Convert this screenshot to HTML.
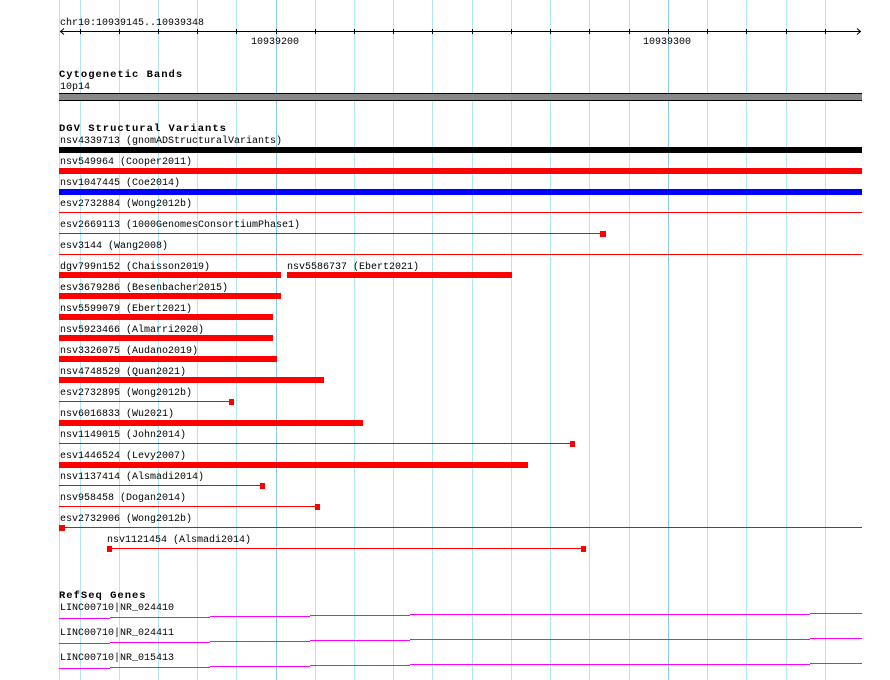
<!DOCTYPE html>
<html><head><meta charset="utf-8"><style>
html,body{margin:0;padding:0;background:#fff}
svg{display:block}
text{font-family:"Liberation Mono",monospace;font-size:10px;fill:#000}
.b{font-weight:bold;letter-spacing:1px;font-size:10.5px}
</style></head><body>
<svg width="890" height="680" viewBox="0 0 890 680" xmlns="http://www.w3.org/2000/svg" shape-rendering="crispEdges">
<rect width="890" height="680" fill="#fff"/>
<g stroke="#b0e8f0" stroke-width="1">
<line x1="59.5" y1="0" x2="59.5" y2="680"/>
<line x1="80.5" y1="0" x2="80.5" y2="680"/>
<line x1="119.5" y1="0" x2="119.5" y2="680"/>
<line x1="158.5" y1="0" x2="158.5" y2="680"/>
<line x1="197.5" y1="0" x2="197.5" y2="680"/>
<line x1="236.5" y1="0" x2="236.5" y2="680"/>
<line x1="315.5" y1="0" x2="315.5" y2="680"/>
<line x1="354.5" y1="0" x2="354.5" y2="680"/>
<line x1="393.5" y1="0" x2="393.5" y2="680"/>
<line x1="432.5" y1="0" x2="432.5" y2="680"/>
<line x1="472.5" y1="0" x2="472.5" y2="680"/>
<line x1="511.5" y1="0" x2="511.5" y2="680"/>
<line x1="550.5" y1="0" x2="550.5" y2="680"/>
<line x1="589.5" y1="0" x2="589.5" y2="680"/>
<line x1="629.5" y1="0" x2="629.5" y2="680"/>
<line x1="707.5" y1="0" x2="707.5" y2="680"/>
<line x1="746.5" y1="0" x2="746.5" y2="680"/>
<line x1="786.5" y1="0" x2="786.5" y2="680"/>
<line x1="825.5" y1="0" x2="825.5" y2="680"/>
</g>
<g stroke="#88cce8"><line x1="276.5" y1="0" x2="276.5" y2="680"/><line x1="668.5" y1="0" x2="668.5" y2="680"/></g>

<text x="60" y="25">chr10:10939145..10939348</text>
<g stroke="#000" fill="none">
<line x1="60" y1="31.5" x2="861" y2="31.5"/>
<polyline points="64,28.5 60.5,31.5 64,34.5" shape-rendering="auto"/>
<polyline points="857,28.5 860.5,31.5 857,34.5" shape-rendering="auto"/>
<path d="M80.5 29v5M119.5 29v5M158.5 29v5M197.5 29v5M236.5 29v5M276.5 29v5M315.5 29v5M354.5 29v5M393.5 29v5M432.5 29v5M472.5 29v5M511.5 29v5M550.5 29v5M589.5 29v5M629.5 29v5M668.5 29v5M707.5 29v5M746.5 29v5M786.5 29v5M825.5 29v5"/>
</g>
<text x="251" y="44">10939200</text>
<text x="643" y="44">10939300</text>

<text x="59" y="77" class="b">Cytogenetic Bands</text>
<text x="60" y="89">10p14</text>
<rect x="59" y="93" width="803" height="8" fill="#000"/>
<rect x="59" y="94" width="803" height="6" fill="#888"/>

<text x="59" y="131" class="b">DGV Structural Variants</text>
<text x="60" y="143">nsv4339713 (gnomADStructuralVariants)</text>
<rect x="59" y="147" width="803" height="6" fill="#000"/>
<text x="60" y="164">nsv549964 (Cooper2011)</text>
<rect x="59" y="168" width="803" height="6" fill="#f00"/>
<text x="60" y="185">nsv1047445 (Coe2014)</text>
<rect x="59" y="189" width="803" height="6" fill="#00f"/>
<text x="60" y="206">esv2732884 (Wong2012b)</text>
<rect x="59" y="212" width="803" height="1" fill="#f00"/>
<text x="60" y="227">esv2669113 (1000GenomesConsortiumPhase1)</text>
<rect x="59" y="233" width="544" height="1" fill="#f00"/>
<rect x="600" y="231" width="6" height="6" fill="#f00"/>
<text x="60" y="248">esv3144 (Wang2008)</text>
<rect x="59" y="254" width="803" height="1" fill="#f00"/>
<text x="60" y="269">dgv799n152 (Chaisson2019)</text>
<rect x="59" y="272" width="222" height="6" fill="#f00"/>
<text x="287" y="269">nsv5586737 (Ebert2021)</text>
<rect x="287" y="272" width="225" height="6" fill="#f00"/>
<text x="60" y="290">esv3679286 (Besenbacher2015)</text>
<rect x="59" y="293" width="222" height="6" fill="#f00"/>
<text x="60" y="311">nsv5599079 (Ebert2021)</text>
<rect x="59" y="314" width="214" height="6" fill="#f00"/>
<text x="60" y="332">nsv5923466 (Almarri2020)</text>
<rect x="59" y="335" width="214" height="6" fill="#f00"/>
<text x="60" y="353">nsv3326075 (Audano2019)</text>
<rect x="59" y="356" width="218" height="6" fill="#f00"/>
<text x="60" y="374">nsv4748529 (Quan2021)</text>
<rect x="59" y="377" width="265" height="6" fill="#f00"/>
<text x="60" y="395">esv2732895 (Wong2012b)</text>
<rect x="59" y="401" width="172" height="1" fill="#f00"/>
<rect x="229" y="399" width="5" height="6" fill="#f00"/>
<text x="60" y="416">nsv6016833 (Wu2021)</text>
<rect x="59" y="420" width="304" height="6" fill="#f00"/>
<text x="60" y="437">nsv1149015 (John2014)</text>
<rect x="59" y="443" width="513" height="1" fill="#f00"/>
<rect x="570" y="441" width="5" height="6" fill="#f00"/>
<text x="60" y="458">esv1446524 (Levy2007)</text>
<rect x="59" y="462" width="469" height="6" fill="#f00"/>
<text x="60" y="479">nsv1137414 (Alsmadi2014)</text>
<rect x="59" y="485" width="203" height="1" fill="#f00"/>
<rect x="260" y="483" width="5" height="6" fill="#f00"/>
<text x="60" y="500">nsv958458 (Dogan2014)</text>
<rect x="59" y="506" width="258" height="1" fill="#f00"/>
<rect x="315" y="504" width="5" height="6" fill="#f00"/>
<text x="60" y="521">esv2732906 (Wong2012b)</text>
<rect x="59" y="527" width="803" height="1" fill="#f00"/>
<rect x="59" y="525" width="6" height="6" fill="#f00"/>
<text x="107" y="542">nsv1121454 (Alsmadi2014)</text>
<rect x="109" y="548" width="474" height="1" fill="#f00"/>
<rect x="107" y="546" width="5" height="6" fill="#f00"/>
<rect x="581" y="546" width="5" height="6" fill="#f00"/>

<text x="59" y="598" class="b">RefSeq Genes</text>
<text x="60" y="610">LINC00710|NR_024410</text>
<text x="60" y="635">LINC00710|NR_024411</text>
<text x="60" y="660">LINC00710|NR_015413</text>
<g stroke="#f0f" fill="none" shape-rendering="crispEdges">
<path d="M59 618.5H110M110 617.5H210M210 616.5H310M310 615.5H410M410 614.5H510M510 614.5H610M610 614.5H710M710 614.5H810M810 613.5H862"/>
<path d="M59 643.5H110M110 642.5H210M210 641.5H310M310 640.5H410M410 639.5H510M510 639.5H610M610 639.5H710M710 639.5H810M810 638.5H862"/>
<path d="M59 668.5H110M110 667.5H210M210 666.5H310M310 665.5H410M410 664.5H510M510 664.5H610M610 664.5H710M710 664.5H810M810 663.5H862"/>
</g>
</svg>
</body></html>
